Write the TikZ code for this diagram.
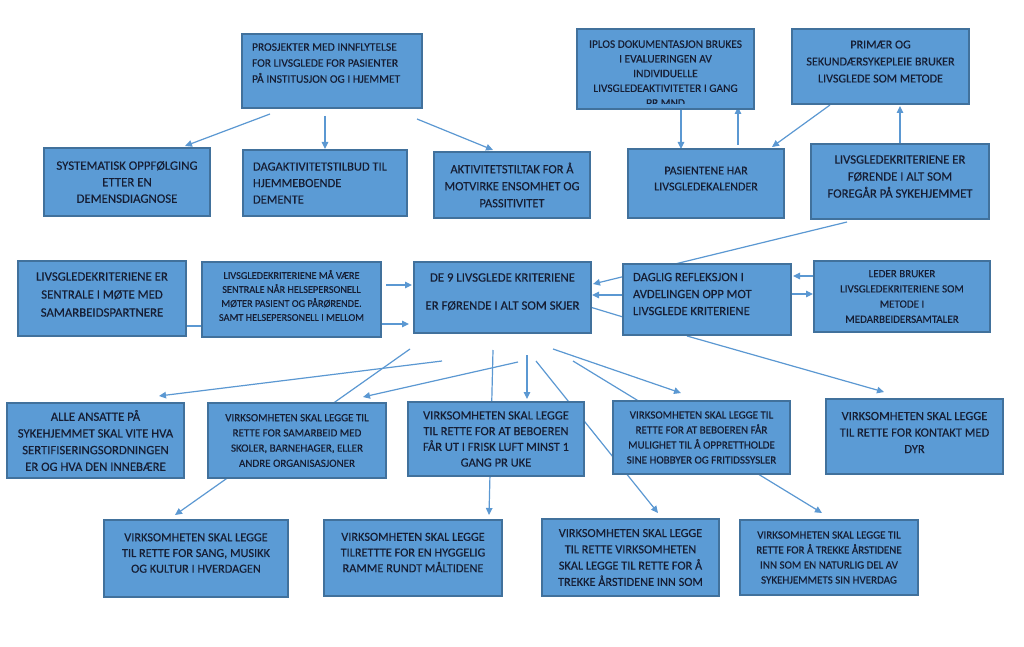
\documentclass[tikz,border=0pt]{standalone}
\usepackage{fontspec}
\setmainfont{Carlito}[FakeBold=0.3]
\usetikzlibrary{arrows.meta}
\definecolor{boxfill}{RGB}{91,155,213}
\definecolor{boxborder}{RGB}{65,113,156}
\definecolor{arrowcol}{RGB}{91,152,210}
\definecolor{txtcol}{RGB}{22,30,52}
\tikzset{
  box/.style={draw=boxborder, fill=boxfill, line width=1.2pt, inner sep=0pt, text=txtcol, align=center},
  conn/.style={draw=arrowcol, line width=1.2pt},
  arr/.style={conn, -{Triangle[length=7pt,width=6.5pt]}},
  fA/.style={font=\fontsize{12.5}{16.5}\selectfont},
  fB/.style={font=\fontsize{11}{15.2}\selectfont},
  fC/.style={font=\fontsize{10.3}{14}\selectfont},
}
\begin{document}
\begin{tikzpicture}[x=1pt,y=-1pt]
\fill[white] (0,0) rectangle (1024,647);
\useasboundingbox (0,0) rectangle (1024,647);

% connector end points
\coordinate (a1) at (270,114);  \coordinate (b1) at (185,146);
\coordinate (a2) at (325,116);  \coordinate (b2) at (325,149);
\coordinate (a3) at (417,119);  \coordinate (b3) at (493,150);
\coordinate (a4) at (681,109);  \coordinate (b4) at (681,149);
\coordinate (a5) at (738,145);  \coordinate (b5) at (738,107);
\coordinate (a6) at (830,105);  \coordinate (b6) at (772,147);
\coordinate (a7) at (900,144);  \coordinate (b7) at (900,106);
\coordinate (a8) at (847,222);  \coordinate (b8) at (593,284);
\coordinate (a9) at (623,295);  \coordinate (b9) at (592,295);
\coordinate (a10) at (623,317); \coordinate (b10) at (590,307);
\coordinate (a11) at (814,276); \coordinate (b11) at (793,276);
\coordinate (a12) at (792,294); \coordinate (b12) at (813,294);
\coordinate (a13) at (386,285); \coordinate (b13) at (412,285);
\coordinate (a14) at (381,324); \coordinate (b14) at (409,324);
\coordinate (a15) at (185,326); \coordinate (b15) at (202,326);
\coordinate (a16) at (410,349); \coordinate (b16) at (175,515);
\coordinate (a17) at (442,361); \coordinate (b17) at (159,396);
\coordinate (a18) at (518,362); \coordinate (b18) at (363,397);
\coordinate (a19) at (493,350); \coordinate (b19) at (489,515);
\coordinate (a20) at (527,355); \coordinate (b20) at (527,399);
\coordinate (a21) at (536,361); \coordinate (b21) at (658,513);
\coordinate (a22) at (553,349); \coordinate (b22) at (681,393);
\coordinate (a23) at (573,361); \coordinate (b23) at (822,513);
\coordinate (a24) at (687,336); \coordinate (b24) at (884,392);

\draw[arr] (a1) -- (b1);
\draw[arr] (a2) -- (b2);
\draw[arr] (a3) -- (b3);
\draw[arr] (a4) -- (b4);
\draw[arr] (a5) -- (b5);
\draw[arr] (a6) -- (b6);
\draw[arr] (a7) -- (b7);
\draw[arr] (a8) -- (b8);
\draw[arr] (a9) -- (b9);
\draw[conn] (a10) -- (b10);
\draw[arr] (a11) -- (b11);
\draw[arr] (a12) -- (b12);
\draw[arr] (a13) -- (b13);
\draw[arr] (a14) -- (b14);
\draw[conn] (a15) -- (b15);
\draw[arr] (a16) -- (b16);
\draw[arr] (a17) -- (b17);
\draw[arr] (a18) -- (b18);
\draw[arr] (a19) -- (b19);
\draw[arr] (a20) -- (b20);
\draw[arr] (a21) -- (b21);
\draw[arr] (a22) -- (b22);
\draw[arr] (a23) -- (b23);
\draw[arr] (a24) -- (b24);

% top row
\node[box, font=\fontsize{11.5}{16}\selectfont, align=flush left, text width=160pt, minimum width=180pt, minimum height=74pt] (prosj) at (332,71)
 {PROSJEKTER MED INNFLYTELSE\\FOR LIVSGLEDE FOR PASIENTER\\PÅ INSTITUSJON OG I HJEMMET\\\mbox{}};
\node[box, font=\fontsize{12.8}{16.5}\selectfont, minimum width=166pt, minimum height=68pt] (syst) at (127,182)
 {SYSTEMATISK OPPFØLGING\\ETTER EN\\DEMENSDIAGNOSE};
\node[box, fA, align=flush left, text width=144pt, minimum width=164pt, minimum height=66pt] (dagakt) at (325,183)
 {DAGAKTIVITETSTILBUD TIL\\HJEMMEBOENDE\\DEMENTE};
\node[box, font=\fontsize{12.5}{17}\selectfont, minimum width=156pt, minimum height=66pt] (aktiv) at (512,185)
 {AKTIVITETSTILTAK FOR Å\\MOTVIRKE ENSOMHET OG\\PASSITIVITET};
\node[box, minimum width=177pt, minimum height=80pt] (iplos) at (665.5,69) {};
\begin{scope}
\clip ([yshift=6pt]iplos.south west) rectangle (iplos.north east);
\node[text=txtcol, align=center, inner sep=0pt, font=\fontsize{11.4}{14.7}\selectfont] (iplostxt) at (665.5,73.5)
 {IPLOS DOKUMENTASJON BRUKES\\I EVALUERINGEN AV\\INDIVIDUELLE\\LIVSGLEDEAKTIVITETER I GANG\\PR MND};
\end{scope}
\node[box, font=\fontsize{12.1}{17}\selectfont, minimum width=177pt, minimum height=75pt] (primaer) at (880.5,66.5)
 {PRIMÆR OG\\SEKUNDÆRSYKEPLEIE BRUKER\\LIVSGLEDE SOM METODE\\[-7pt]\mbox{}};
\node[box, font=\fontsize{12}{16}\selectfont, minimum width=156pt, minimum height=69pt] (pasient) at (706,183.5)
 {PASIENTENE HAR\\LIVSGLEDEKALENDER\\[-6pt]\mbox{}};
\node[box, font=\fontsize{12.7}{17}\selectfont, minimum width=178pt, minimum height=75pt] (forende) at (900,181.5)
 {LIVSGLEDEKRITERIENE ER\\FØRENDE I ALT SOM\\FOREGÅR PÅ SYKEHJEMMET\\[-7pt]\mbox{}};

% middle row
\node[box, font=\fontsize{12.8}{18}\selectfont, minimum width=168pt, minimum height=75pt] (sentrale) at (102,298.5)
 {LIVSGLEDEKRITERIENE ER\\SENTRALE I MØTE MED\\SAMARBEIDSPARTNERE\\[-10pt]\mbox{}};
\node[box, fC, minimum width=179pt, minimum height=75pt] (maa) at (291.5,299.5)
 {LIVSGLEDEKRITERIENE MÅ VÆRE\\SENTRALE NÅR HELSEPERSONELL\\MØTER PASIENT OG PÅRØRENDE.\\SAMT HELSEPERSONELL I MELLOM\\[-6pt]\mbox{}};
\node[box, font=\fontsize{12.8}{16.6}\selectfont, minimum width=177pt, minimum height=71pt] (sentral) at (502.5,297.5)
 {DE 9 LIVSGLEDE KRITERIENE\\[11.4pt]ER FØRENDE I ALT SOM SKJER\\[-4.6pt]\mbox{}};
\node[box, font=\fontsize{12.6}{17}\selectfont, align=flush left, text width=148pt, minimum width=168pt, minimum height=71pt] (daglig) at (707,299.5)
 {DAGLIG REFLEKSJON I\\AVDELINGEN OPP MOT\\LIVSGLEDE KRITERIENE\\[-6pt]\mbox{}};
\node[box, fB, minimum width=176pt, minimum height=71pt] (leder) at (902,296.5)
 {LEDER BRUKER\\LIVSGLEDEKRITERIENE SOM\\METODE I\\MEDARBEIDERSAMTALER};

% third row
\node[box, font=\fontsize{12.7}{16.7}\selectfont, minimum width=177pt, minimum height=75pt] (alle) at (95.5,440.5)
 {ALLE ANSATTE PÅ\\SYKEHJEMMET SKAL VITE HVA\\SERTIFISERINGSORDNINGEN\\ER OG HVA DEN INNEBÆRE};
\node[box, fB, minimum width=178pt, minimum height=75pt] (samarb) at (297,440.5)
 {VIRKSOMHETEN SKAL LEGGE TIL\\RETTE FOR SAMARBEID MED\\SKOLER, BARNEHAGER, ELLER\\ANDRE ORGANISASJONER};
\node[box, font=\fontsize{12.5}{15.7}\selectfont, minimum width=176pt, minimum height=74pt] (frisk) at (496,439)
 {VIRKSOMHETEN SKAL LEGGE\\TIL RETTE FOR AT BEBOEREN\\FÅR UT I FRISK LUFT MINST 1\\GANG PR UKE};
\node[box, font=\fontsize{11}{15}\selectfont, minimum width=177pt, minimum height=73pt] (hobby) at (701.5,437.5)
 {VIRKSOMHETEN SKAL LEGGE TIL\\RETTE FOR AT BEBOEREN FÅR\\MULIGHET TIL Å OPPRETTHOLDE\\SINE HOBBYER OG FRITIDSSYSLER};
\node[box, fA, minimum width=177pt, minimum height=75pt] (dyr) at (914.5,436.5)
 {VIRKSOMHETEN SKAL LEGGE\\TIL RETTE FOR KONTAKT MED\\DYR\\[-8.5pt]\mbox{}};

% bottom row
\node[box, font=\fontsize{12.3}{15.7}\selectfont, minimum width=184pt, minimum height=77pt] (sang) at (196,558.5)
 {VIRKSOMHETEN SKAL LEGGE\\TIL RETTE FOR SANG, MUSIKK\\OG KULTUR I HVERDAGEN\\[-4.7pt]\mbox{}};
\node[box, font=\fontsize{12.3}{15.7}\selectfont, minimum width=178pt, minimum height=76pt] (hygg) at (413,558)
 {VIRKSOMHETEN SKAL LEGGE\\TILRETTTE FOR EN HYGGELIG\\RAMME RUNDT MÅLTIDENE\\[-4.7pt]\mbox{}};
\node[box, font=\fontsize{12.3}{16.3}\selectfont, minimum width=177pt, minimum height=77pt] (aarst) at (630.5,557.5)
 {VIRKSOMHETEN SKAL LEGGE\\TIL RETTE VIRKSOMHETEN\\SKAL LEGGE TIL RETTE FOR Å\\TREKKE ÅRSTIDENE INN SOM};
\node[box, font=\fontsize{11}{15}\selectfont, minimum width=178pt, minimum height=75pt] (natur) at (829,557.5)
 {VIRKSOMHETEN SKAL LEGGE TIL\\RETTE FOR Å TREKKE ÅRSTIDENE\\INN SOM EN NATURLIG DEL AV\\SYKEHJEMMETS SIN HVERDAG};
\end{tikzpicture}
\end{document}
